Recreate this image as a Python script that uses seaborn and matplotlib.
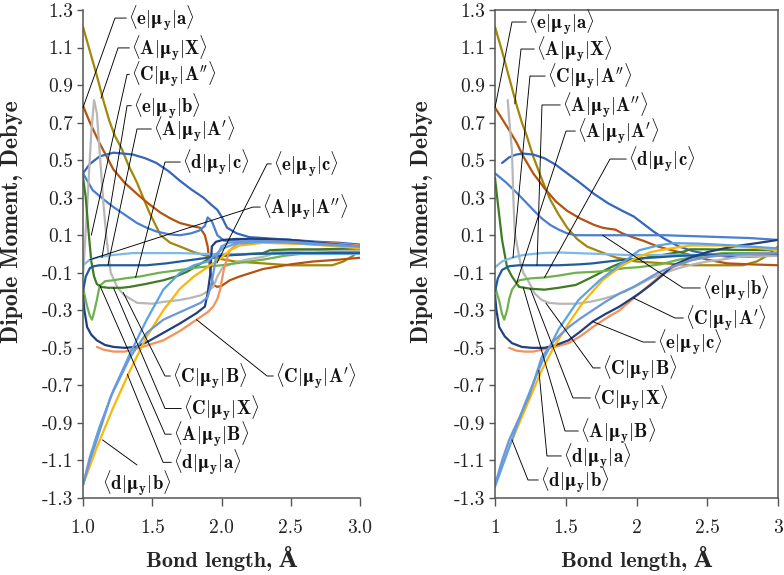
import matplotlib
matplotlib.use("Agg")
import matplotlib.pyplot as plt
import seaborn as sns
import pandas as pd

# ---------------- data: left panel ----------------
L_OLIVE_X = [1.0, 1.05, 1.1, 1.15, 1.19, 1.23, 1.28, 1.33, 1.39, 1.44, 1.48, 1.56, 1.63, 1.70, 1.8, 1.94, 2.1, 2.3, 2.5, 2.7, 2.8, 2.88, 2.95, 3.0]
L_OLIVE_Y = [1.21, 1.08, 0.95, 0.81, 0.71, 0.63, 0.56, 0.47, 0.38, 0.29, 0.22, 0.10, 0.06, 0.04, 0.01, -0.02, -0.04, -0.05, -0.06, -0.06, -0.06, -0.04, -0.01, 0.03]
L_BROWN_X = [1.0, 1.05, 1.12, 1.22, 1.3, 1.39, 1.47, 1.56, 1.63, 1.70, 1.78, 1.845, 1.88, 1.9, 1.92, 1.94, 1.97, 2.0, 2.06, 2.13, 2.3, 2.5, 2.66, 2.85, 3.0]
L_BROWN_Y = [0.79, 0.70, 0.59, 0.45, 0.38, 0.32, 0.27, 0.22, 0.19, 0.165, 0.15, 0.14, 0.10, 0.04, -0.10, -0.165, -0.175, -0.17, -0.14, -0.12, -0.08, -0.055, -0.04, -0.03, -0.02]
L_HUMP_X = [1.0, 1.05, 1.12, 1.22, 1.36, 1.45, 1.53, 1.62, 1.70, 1.78, 1.87, 1.93, 1.97, 2.0, 2.04, 2.11, 2.2, 2.3, 2.5, 2.7, 2.85, 3.0]
L_HUMP_Y = [0.43, 0.48, 0.52, 0.54, 0.53, 0.51, 0.485, 0.44, 0.39, 0.345, 0.30, 0.26, 0.235, 0.20, 0.14, 0.11, 0.09, 0.085, 0.075, 0.065, 0.06, 0.05]
L_EB_X = [1.0, 1.07, 1.15, 1.22, 1.3, 1.39, 1.46, 1.53, 1.62, 1.70, 1.78, 1.84, 1.88, 1.90, 1.93, 1.97, 2.02, 2.1, 2.3, 2.5, 2.7, 2.85, 3.0]
L_EB_Y = [0.43, 0.34, 0.29, 0.25, 0.21, 0.165, 0.14, 0.12, 0.105, 0.10, 0.11, 0.125, 0.15, 0.195, 0.175, 0.10, 0.07, 0.075, 0.08, 0.075, 0.06, 0.05, 0.04]
L_GRAY_X = [1.0, 1.03, 1.06, 1.08, 1.1, 1.12, 1.145, 1.17, 1.2, 1.25, 1.3, 1.39, 1.5, 1.58, 1.7, 1.77, 1.85, 1.9, 1.94, 1.97, 2.01, 2.1, 2.18, 2.3, 2.35, 2.37, 2.5, 2.66, 2.85, 3.0]
L_GRAY_Y = [-0.12, 0.25, 0.65, 0.82, 0.75, 0.55, 0.29, 0.08, -0.1, -0.18, -0.22, -0.26, -0.265, -0.255, -0.245, -0.235, -0.22, -0.20, -0.175, -0.12, -0.07, -0.045, -0.03, -0.015, -0.005, 0.01, 0.015, 0.02, 0.02, 0.02]
L_DKGREEN_X = [1.0, 1.02, 1.04, 1.06, 1.08, 1.1, 1.13, 1.18, 1.22, 1.28, 1.34, 1.45, 1.58, 1.67, 1.75, 1.83, 1.9, 1.98, 2.06, 2.2, 2.3, 2.35, 2.5, 2.7, 3.0]
L_DKGREEN_Y = [0.41, 0.3, 0.12, -0.04, -0.12, -0.16, -0.175, -0.18, -0.18, -0.18, -0.175, -0.16, -0.14, -0.12, -0.095, -0.06, -0.03, -0.01, -0.005, 0.0, 0.005, 0.02, 0.025, 0.025, 0.03]
L_LTGREEN_X = [1.0, 1.03, 1.05, 1.065, 1.08, 1.1, 1.12, 1.16, 1.22, 1.3, 1.41, 1.55, 1.7, 1.85, 2.0, 2.15, 2.3, 2.45, 2.62, 2.8, 3.0]
L_LTGREEN_Y = [-0.18, -0.28, -0.33, -0.35, -0.31, -0.245, -0.17, -0.145, -0.14, -0.13, -0.12, -0.1, -0.085, -0.07, -0.06, -0.045, -0.03, -0.01, 0.005, 0.01, 0.01]
L_LTBLUE_X = [1.0, 1.05, 1.12, 1.22, 1.36, 1.5, 1.7, 1.9, 2.1, 2.3, 2.5, 2.7, 3.0]
L_LTBLUE_Y = [-0.06, -0.03, -0.015, -0.005, 0.005, 0.005, 0.005, 0.0, 0.0, 0.0, 0.0, 0.0, 0.0]
L_TEAL_X = [1.0, 1.02, 1.05, 1.08, 1.12, 1.2, 1.3, 1.46, 1.6, 1.7, 1.8, 1.9, 2.0, 2.2, 2.5, 2.8, 3.0]
L_TEAL_Y = [-0.2, -0.12, -0.075, -0.065, -0.06, -0.06, -0.06, -0.06, -0.05, -0.04, -0.03, -0.02, -0.01, 0.0, 0.005, 0.005, 0.005]
L_NAVY_X = [1.0, 1.01, 1.03, 1.06, 1.1, 1.16, 1.22, 1.3, 1.38, 1.46, 1.58, 1.7, 1.82, 1.88, 1.9, 1.92, 1.93, 1.96, 2.01, 2.1, 2.3, 2.5, 2.7, 2.85, 3.0]
L_NAVY_Y = [-0.22, -0.3, -0.39, -0.43, -0.46, -0.485, -0.495, -0.5, -0.495, -0.47, -0.42, -0.37, -0.315, -0.28, -0.21, -0.1, 0.04, 0.065, 0.075, 0.08, 0.08, 0.075, 0.06, 0.05, 0.04]
L_SALMON_X = [1.1, 1.15, 1.22, 1.3, 1.36, 1.45, 1.58, 1.7, 1.82, 1.9, 1.94, 1.97, 1.99, 2.02, 2.06, 2.13, 2.3, 2.5, 2.7, 2.85, 3.0]
L_SALMON_Y = [-0.495, -0.51, -0.52, -0.52, -0.51, -0.49, -0.46, -0.41, -0.35, -0.31, -0.28, -0.24, -0.19, -0.07, 0.02, 0.065, 0.075, 0.07, 0.06, 0.055, 0.045]
L_YELLOW_X = [1.0, 1.1, 1.22, 1.34, 1.46, 1.58, 1.7, 1.8, 1.9, 2.0, 2.06, 2.13, 2.3, 2.5, 2.66, 2.85, 3.0]
L_YELLOW_Y = [-1.23, -1.03, -0.815, -0.62, -0.44, -0.30, -0.185, -0.12, -0.07, -0.02, 0.02, 0.045, 0.06, 0.055, 0.05, 0.04, 0.03]
L_BLUEFAST_X = [1.0, 1.05, 1.12, 1.22, 1.34, 1.46, 1.58, 1.7, 1.8, 1.9, 2.01, 2.1, 2.3, 2.5, 2.7, 3.0]
L_BLUEFAST_Y = [-1.23, -1.08, -0.92, -0.725, -0.53, -0.35, -0.19, -0.10, -0.06, -0.04, 0.03, 0.055, 0.065, 0.06, 0.05, 0.04]
L_BLUESLOW_X = [1.0, 1.05, 1.1, 1.2, 1.34, 1.46, 1.58, 1.7, 1.85, 1.9, 1.93, 1.96, 2.0, 2.05, 2.2, 2.5, 2.8, 3.0]
L_BLUESLOW_Y = [-1.23, -1.1, -0.99, -0.76, -0.55, -0.42, -0.35, -0.31, -0.26, -0.23, -0.15, -0.02, 0.04, 0.06, 0.07, 0.065, 0.05, 0.04]

# ---------------- data: right panel ----------------
R_OLIVE_X = [1.0, 1.05, 1.1, 1.15, 1.19, 1.22, 1.27, 1.33, 1.39, 1.45, 1.51, 1.58, 1.65, 1.75, 1.86, 2.0, 2.2, 2.4, 2.6, 2.75, 2.85, 2.92, 3.0]
R_OLIVE_Y = [1.21, 1.08, 0.94, 0.80, 0.70, 0.64, 0.52, 0.40, 0.29, 0.21, 0.14, 0.08, 0.04, 0.01, -0.02, -0.04, -0.05, -0.06, -0.06, -0.06, -0.04, -0.01, 0.04]
R_BROWN_X = [1.0, 1.05, 1.1, 1.155, 1.2, 1.27, 1.35, 1.43, 1.51, 1.6, 1.7, 1.76, 1.8, 1.85, 1.9, 1.97, 2.05, 2.15, 2.25, 2.38, 2.5, 2.64, 2.8, 3.0]
R_BROWN_Y = [0.78, 0.72, 0.66, 0.59, 0.52, 0.43, 0.35, 0.28, 0.23, 0.19, 0.155, 0.14, 0.135, 0.13, 0.11, 0.09, 0.07, 0.04, 0.02, -0.005, -0.03, -0.05, -0.055, -0.06]
R_HUMP_X = [1.05, 1.1, 1.15, 1.2, 1.27, 1.35, 1.43, 1.51, 1.6, 1.7, 1.8, 1.9, 1.98, 2.05, 2.12, 2.2, 2.3, 2.4, 2.5, 2.65, 2.8, 3.0]
R_HUMP_Y = [0.485, 0.515, 0.53, 0.535, 0.53, 0.51, 0.475, 0.43, 0.38, 0.32, 0.27, 0.23, 0.20, 0.16, 0.12, 0.08, 0.04, 0.015, 0.0, -0.015, -0.015, -0.005]
R_EB_X = [1.0, 1.08, 1.155, 1.2, 1.27, 1.33, 1.39, 1.45, 1.51, 1.57, 1.62, 1.8, 2.0, 2.2, 2.4, 2.6, 2.8, 3.0]
R_EB_Y = [0.43, 0.38, 0.325, 0.29, 0.235, 0.19, 0.155, 0.13, 0.11, 0.10, 0.10, 0.10, 0.10, 0.10, 0.095, 0.09, 0.085, 0.075]
R_GRAY_X = [1.09, 1.1, 1.12, 1.13, 1.14, 1.16, 1.18, 1.2, 1.24, 1.28, 1.33, 1.38, 1.45, 1.57, 1.67, 1.76, 1.85, 1.92, 2.0, 2.1, 2.2, 2.3, 2.4, 2.5, 2.6, 2.73, 2.85, 3.0]
R_GRAY_Y = [0.82, 0.72, 0.55, 0.29, 0.11, 0.03, -0.05, -0.10, -0.15, -0.21, -0.245, -0.26, -0.265, -0.265, -0.255, -0.24, -0.22, -0.20, -0.17, -0.13, -0.10, -0.075, -0.055, -0.04, -0.03, -0.015, -0.012, -0.01]
R_DKGREEN_X = [1.0, 1.02, 1.05, 1.085, 1.12, 1.17, 1.25, 1.35, 1.45, 1.57, 1.64, 1.72, 1.78, 1.85, 1.92, 2.02, 2.15, 2.26, 2.33, 2.38, 2.5, 2.7, 3.0]
R_DKGREEN_Y = [0.405, 0.27, 0.075, -0.07, -0.12, -0.175, -0.185, -0.19, -0.18, -0.165, -0.14, -0.11, -0.085, -0.06, -0.04, -0.025, -0.01, 0.005, 0.012, 0.025, 0.025, 0.022, 0.02]
R_LTGREEN_X = [1.0, 1.03, 1.05, 1.065, 1.085, 1.1, 1.12, 1.17, 1.25, 1.35, 1.45, 1.57, 1.7, 1.78, 1.92, 2.02, 2.17, 2.3, 2.45, 2.61, 2.8, 3.0]
R_LTGREEN_Y = [-0.175, -0.25, -0.32, -0.35, -0.3, -0.24, -0.19, -0.14, -0.13, -0.125, -0.115, -0.10, -0.095, -0.09, -0.075, -0.07, -0.055, -0.03, -0.01, 0.005, 0.005, 0.005]
R_LTBLUE_X = [1.0, 1.05, 1.12, 1.2, 1.33, 1.45, 1.57, 1.75, 1.92, 2.1, 2.3, 2.5, 2.7, 3.0]
R_LTBLUE_Y = [-0.07, -0.04, -0.02, -0.005, 0.005, 0.008, 0.005, 0.0, -0.005, -0.005, -0.005, -0.005, 0.0, 0.0]
R_TEAL_X = [1.0, 1.02, 1.05, 1.1, 1.17, 1.3, 1.45, 1.6, 1.69, 1.8, 1.92, 2.1, 2.3, 2.5, 2.7, 3.0]
R_TEAL_Y = [-0.2, -0.13, -0.085, -0.065, -0.06, -0.06, -0.06, -0.055, -0.05, -0.04, -0.03, -0.02, -0.01, -0.005, 0.0, 0.0]
R_NAVY_X = [1.0, 1.01, 1.03, 1.07, 1.12, 1.19, 1.26, 1.35, 1.43, 1.52, 1.6, 1.69, 1.78, 1.88, 1.95, 2.02, 2.1, 2.18, 2.26, 2.38, 2.5, 2.62, 2.73, 2.87, 3.0]
R_NAVY_Y = [-0.22, -0.3, -0.39, -0.44, -0.475, -0.495, -0.5, -0.5, -0.485, -0.46, -0.415, -0.36, -0.32, -0.28, -0.245, -0.21, -0.165, -0.115, -0.06, -0.02, 0.01, 0.03, 0.045, 0.06, 0.075]
R_SALMON_X = [1.1, 1.15, 1.21, 1.27, 1.33, 1.42, 1.52, 1.6, 1.69, 1.78, 1.88, 1.95, 2.02, 2.1, 2.18, 2.26, 2.38, 2.5, 2.65, 2.8, 3.0]
R_SALMON_Y = [-0.50, -0.515, -0.52, -0.52, -0.51, -0.495, -0.475, -0.44, -0.39, -0.345, -0.30, -0.255, -0.21, -0.16, -0.11, -0.07, -0.035, -0.015, -0.005, 0.0, 0.005]
R_YELLOW_X = [1.0, 1.1, 1.2, 1.33, 1.42, 1.52, 1.62, 1.76, 1.88, 2.0, 2.1, 2.2, 2.38, 2.61, 2.8, 3.0]
R_YELLOW_Y = [-1.23, -1.03, -0.85, -0.62, -0.49, -0.37, -0.26, -0.14, -0.07, -0.02, 0.01, 0.025, 0.045, 0.045, 0.035, 0.02]
R_BLUEFAST_X = [1.0, 1.1, 1.21, 1.33, 1.45, 1.59, 1.74, 1.86, 2.02, 2.15, 2.26, 2.45, 2.7, 3.0]
R_BLUEFAST_Y = [-1.24, -1.03, -0.80, -0.58, -0.40, -0.245, -0.14, -0.07, 0.02, 0.045, 0.058, 0.055, 0.045, 0.03]
R_BLUESLOW_X = [1.0, 1.05, 1.1, 1.24, 1.33, 1.42, 1.52, 1.6, 1.69, 1.78, 1.88, 1.98, 2.06, 2.15, 2.26, 2.4, 2.55, 2.75, 3.0]
R_BLUESLOW_Y = [-1.23, -1.1, -0.99, -0.76, -0.55, -0.46, -0.39, -0.345, -0.30, -0.255, -0.21, -0.175, -0.14, -0.10, -0.065, -0.03, -0.01, 0.0, 0.005]

COLORS = {
    "olive": "#A3860A", "brown": "#B4530F", "hump": "#3566BC", "eb": "#4A7ED3",
    "gray": "#B7B7B7", "dkgreen": "#3E7B22", "ltgreen": "#6DB24F", "ltblue": "#7DB9E8",
    "teal": "#1F5C99", "navy": "#213F7D", "salmon": "#F5915A", "yellow": "#F9B70A",
    "bluefast": "#5BA3E6", "blueslow": "#6C97DA",
}
ORDER = ["olive", "brown", "hump", "eb", "gray", "dkgreen", "ltgreen", "ltblue",
         "teal", "salmon", "navy", "yellow", "bluefast", "blueslow"]

LEFT = {
    "olive": (L_OLIVE_X, L_OLIVE_Y), "brown": (L_BROWN_X, L_BROWN_Y),
    "hump": (L_HUMP_X, L_HUMP_Y), "eb": (L_EB_X, L_EB_Y), "gray": (L_GRAY_X, L_GRAY_Y),
    "dkgreen": (L_DKGREEN_X, L_DKGREEN_Y), "ltgreen": (L_LTGREEN_X, L_LTGREEN_Y),
    "ltblue": (L_LTBLUE_X, L_LTBLUE_Y), "teal": (L_TEAL_X, L_TEAL_Y),
    "navy": (L_NAVY_X, L_NAVY_Y), "salmon": (L_SALMON_X, L_SALMON_Y),
    "yellow": (L_YELLOW_X, L_YELLOW_Y), "bluefast": (L_BLUEFAST_X, L_BLUEFAST_Y),
    "blueslow": (L_BLUESLOW_X, L_BLUESLOW_Y),
}
RIGHT = {
    "olive": (R_OLIVE_X, R_OLIVE_Y), "brown": (R_BROWN_X, R_BROWN_Y),
    "hump": (R_HUMP_X, R_HUMP_Y), "eb": (R_EB_X, R_EB_Y), "gray": (R_GRAY_X, R_GRAY_Y),
    "dkgreen": (R_DKGREEN_X, R_DKGREEN_Y), "ltgreen": (R_LTGREEN_X, R_LTGREEN_Y),
    "ltblue": (R_LTBLUE_X, R_LTBLUE_Y), "teal": (R_TEAL_X, R_TEAL_Y),
    "navy": (R_NAVY_X, R_NAVY_Y), "salmon": (R_SALMON_X, R_SALMON_Y),
    "yellow": (R_YELLOW_X, R_YELLOW_Y), "bluefast": (R_BLUEFAST_X, R_BLUEFAST_Y),
    "blueslow": (R_BLUESLOW_X, R_BLUESLOW_Y),
}

Y_TICKS = [1.3, 1.1, 0.9, 0.7, 0.5, 0.3, 0.1, -0.1, -0.3, -0.5, -0.7, -0.9, -1.1, -1.3]
Y_TICK_LABELS = ["1.3", "1.1", "0.9", "0.7", "0.5", "0.3", "0.1", "-0.1", "-0.3", "-0.5", "-0.7", "-0.9", "-1.1", "-1.3"]
X_TICKS = [1.0, 1.5, 2.0, 2.5, 3.0]
X_TICK_LABELS_L = ["1.0", "1.5", "2.0", "2.5", "3.0"]
X_TICK_LABELS_R = ["1", "1.5", "2", "2.5", "3"]


def mlab(a, b, p=""):
    return r"$\langle\mathbf{%s}|\mathbf{μ}_\mathbf{y}|\mathbf{%s}%s\rangle$" % (a, b, p)


# (label, text_x, text_y, corner_x, corner_y, end_x, end_y, tick)
LEFT_NOTES = [
    (mlab("e", "a"), 1.325, 1.257, 1.231, 1.257, 1.0, 0.78, True),
    (mlab("A", "X"), 1.347, 1.098, 1.253, 1.098, 1.13, 0.83, True),
    (mlab("C", "A", "''"), 1.347, 0.957, 1.318, 0.957, 1.06, 0.10, True),
    (mlab("e", "b"), 1.361, 0.79, 1.318, 0.79, 1.137, -0.02, True),
    (mlab("A", "A", "'"), 1.505, 0.666, 1.390, 0.666, 1.18, -0.06, True),
    (mlab("d", "c"), 1.715, 0.49, 1.592, 0.49, 1.38, -0.125, True),
    (mlab("e", "c"), 2.372, 0.48, 2.329, 0.48, 1.967, -0.048, True),
    (mlab("A", "A", "''"), 2.292, 0.25, 2.227, 0.25, 1.05, -0.03, True),
    (mlab("C", "B"), 1.643, -0.65, 1.592, -0.65, 1.29, -0.205, True),
    (mlab("C", "A", "'"), 2.386, -0.65, 2.329, -0.65, 1.82, -0.35, True),
    (mlab("C", "X"), 1.722, -0.823, 1.592, -0.823, 1.22, -0.18, True),
    (mlab("A", "B"), 1.650, -0.96, 1.592, -0.96, 1.12, -0.165, True),
    (mlab("d", "a"), 1.650, -1.11, 1.578, -1.11, 1.32, -0.64, True),
    (mlab("d", "b"), 1.137, -1.22, 1.39, -1.124, 1.14, -0.99, False),
]
RIGHT_NOTES = [
    (mlab("e", "a"), 1.233, 1.236, 1.120, 1.236, 1.0, 0.78, True),
    (mlab("A", "X"), 1.290, 1.092, 1.184, 1.092, 1.14, 0.80, True),
    (mlab("C", "A", "''"), 1.367, 0.948, 1.247, 0.948, 1.127, -0.02, True),
    (mlab("A", "A", "''"), 1.473, 0.794, 1.332, 0.794, 1.297, -0.06, True),
    (mlab("A", "A", "'"), 1.580, 0.655, 1.502, 0.655, 1.15, -0.16, True),
    (mlab("d", "c"), 1.940, 0.506, 1.813, 0.506, 1.35, -0.125, True),
    (mlab("e", "b"), 2.463, -0.181, 2.329, -0.181, 1.76, 0.10, True),
    (mlab("C", "A", "'"), 2.343, -0.341, 2.272, -0.341, 1.98, -0.235, True),
    (mlab("e", "c"), 2.145, -0.469, 2.046, -0.469, 1.69, -0.36, True),
    (mlab("C", "B"), 1.756, -0.607, 1.693, -0.607, 1.36, -0.262, True),
    (mlab("C", "X"), 1.686, -0.767, 1.551, -0.767, 1.25, -0.185, True),
    (mlab("A", "B"), 1.601, -0.943, 1.495, -0.943, 1.20, -0.18, True),
    (mlab("d", "a"), 1.481, -1.076, 1.367, -1.076, 1.31, -0.62, True),
    (mlab("d", "b"), 1.318, -1.204, 1.233, -1.204, 1.12, -0.99, True),
]

sns.set_theme(style="white")
plt.rcParams.update({
    "mathtext.fontset": "cm",
    "font.family": ["cmr10", "DejaVu Serif"],
    "axes.unicode_minus": False,
    "axes.formatter.use_mathtext": True,
})

SPINE = "#555555"
BOLD = ["cmb10", "DejaVu Serif"]

fig = plt.figure(figsize=(7.84, 5.75), dpi=100)
axL = fig.add_axes([83 / 784, 1 - 498 / 575, 277 / 784, 488 / 575])
axR = fig.add_axes([495 / 784, 1 - 498 / 575, 283 / 784, 488 / 575])


def draw(ax, curves, notes, xlabels, box, ylab_x):
    frames = [pd.DataFrame({"x": curves[k][0], "y": curves[k][1], "curve": k}) for k in ORDER]
    df = pd.concat(frames, ignore_index=True)
    sns.lineplot(data=df, x="x", y="y", hue="curve", hue_order=ORDER, palette=COLORS,
                 estimator=None, sort=False, legend=False, lw=1.6, ax=ax)
    ax.set_xlim(1.0, 3.0)
    ax.set_ylim(-1.3, 1.3)
    ax.set_yticks(Y_TICKS)
    ax.set_yticklabels(Y_TICK_LABELS)
    ax.set_xticks(X_TICKS)
    ax.set_xticklabels(xlabels)
    ax.tick_params(axis="y", left=True, direction="out", length=4.5, width=1,
                   color=SPINE, labelsize=14, pad=2.5, labelcolor="#222222")
    ax.tick_params(axis="x", bottom=True, direction="out", length=6, width=1,
                   color=SPINE, labelsize=14, pad=9, labelcolor="#222222")
    for s in ["left", "bottom", "top", "right"]:
        ax.spines[s].set_color(SPINE)
        ax.spines[s].set_linewidth(1.1)
    if not box:
        ax.spines["top"].set_visible(False)
        ax.spines["right"].set_visible(False)
    ax.set_ylabel("Dipole Moment, Debye", fontsize=17, fontweight="bold", family=BOLD)
    ax.set_xlabel("Bond length, Å", fontsize=16, fontweight="bold", family=BOLD)
    ax.xaxis.set_label_coords(0.5, -0.099)
    ax.yaxis.set_label_coords(ylab_x, 0.566)
    for lab, tx, ty, cx, cy, ex, ey, tick in notes:
        xs = [ex, cx]
        ys = [ey, cy]
        if tick:
            xs.append(tx - 0.012)
            ys.append(cy)
        ax.plot(xs, ys, color="black", lw=0.65, zorder=5, clip_on=False)
        ax.text(tx, ty, lab, fontsize=13.5, ha="left", va="center", color="#111111",
                zorder=6, clip_on=False)


draw(axL, LEFT, LEFT_NOTES, X_TICK_LABELS_L, box=False, ylab_x=-0.217)
draw(axR, RIGHT, RIGHT_NOTES, X_TICK_LABELS_R, box=True, ylab_x=-0.219)

fig.savefig("out.png", dpi=100)
